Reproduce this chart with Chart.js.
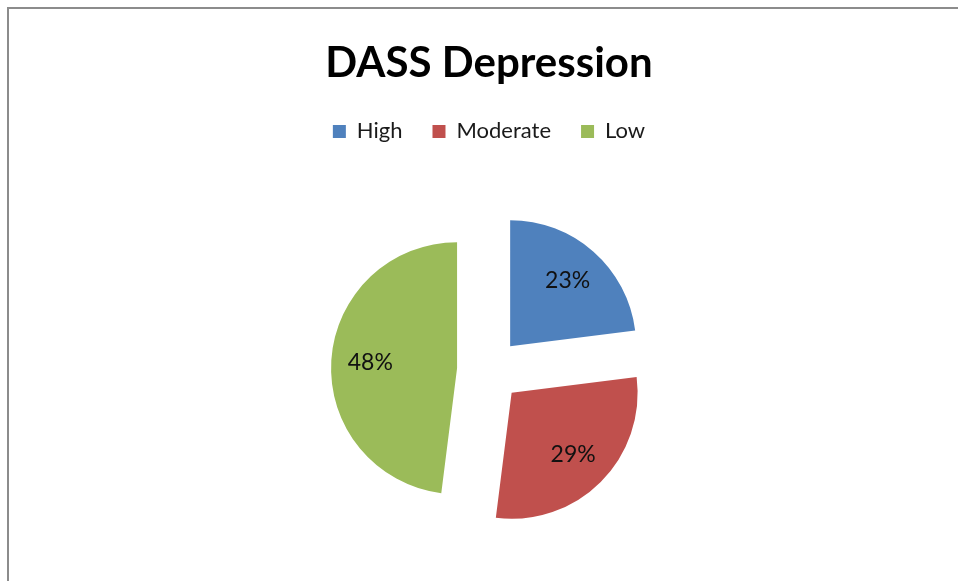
<!DOCTYPE html>
<html>
<head>
<meta charset="utf-8">
<script src="https://cdn.jsdelivr.net/npm/chart.js@4"></script>
<style>
  html, body { margin: 0; padding: 0; background: #fff; overflow: hidden; }
  #wrap { position: relative; width: 958px; height: 581px; }
  #frame { position: absolute; left: 7px; top: 7px; width: 1200px; height: 1200px; border: 2px solid #8c8c8c; box-sizing: border-box; pointer-events: none; }
  canvas { position: absolute; left: 0; top: 0; }
</style>
</head>
<body>
<div id="wrap">
  <div id="frame"></div>
  <canvas id="c" width="958" height="581"></canvas>
</div>
<script>
const titleText = 'DASS Depression';
const categories = ['High', 'Moderate', 'Low'];
const values = [23, 29, 48];
const colors = ['#4F81BD', '#C0504D', '#9BBB59'];

const EXPLODE = 32;      // distance each slice is pulled out (px)
const LABEL_POS = 0.69;  // label position as fraction of radius

const legendMargin = {
  id: 'legendMargin',
  beforeInit(chart) {
    const orig = chart.legend.fit;
    chart.legend.fit = function () {
      orig.call(this);
      this.height += 13;
    };
  }
};

// Explode every slice along its bisector, keeping the same radius for all.
const explode = {
  id: 'explode',
  afterDatasetUpdate(chart, args) {
    const meta = chart.getDatasetMeta(args.index);
    meta.data.forEach(arc => {
      const mid = (arc.startAngle + arc.endAngle) / 2;
      arc.x += Math.cos(mid) * EXPLODE;
      arc.y += Math.sin(mid) * EXPLODE;
    });
  }
};

const sliceLabels = {
  id: 'sliceLabels',
  afterDatasetsDraw(chart) {
    const ctx = chart.ctx;
    const meta = chart.getDatasetMeta(0);
    const total = values.reduce((a, b) => a + b, 0);
    ctx.save();
    ctx.font = '23px Lato';
    ctx.fillStyle = '#111';
    ctx.textAlign = 'center';
    ctx.textBaseline = 'middle';
    meta.data.forEach((arc, i) => {
      const mid = (arc.startAngle + arc.endAngle) / 2;
      const r = arc.outerRadius * LABEL_POS;
      const x = arc.x + Math.cos(mid) * r;
      const y = arc.y + Math.sin(mid) * r;
      ctx.fillText(Math.round(values[i] / total * 100) + '%', x, y);
    });
    ctx.restore();
  }
};

new Chart(document.getElementById('c'), {
  type: 'pie',
  data: {
    labels: categories,
    datasets: [{
      data: values,
      backgroundColor: colors,
      borderWidth: 0,
      radius: 126
    }]
  },
  options: {
    responsive: false,
    animation: false,
    layout: { padding: { left: 20, right: 0, top: 0, bottom: 6 } },
    plugins: {
      title: {
        display: true,
        text: titleText,
        color: '#000',
        font: { family: 'Lato', size: 42, weight: 'bold' },
        padding: { top: 38, bottom: 2 }
      },
      legend: {
        display: true,
        position: 'top',
        labels: {
          color: '#1a1a1a',
          font: { family: 'Lato', size: 22 },
          boxWidth: 13,
          boxHeight: 13,
          padding: 30
        }
      },
      tooltip: { enabled: false }
    }
  },
  plugins: [legendMargin, explode, sliceLabels]
});
</script>
</body>
</html>
